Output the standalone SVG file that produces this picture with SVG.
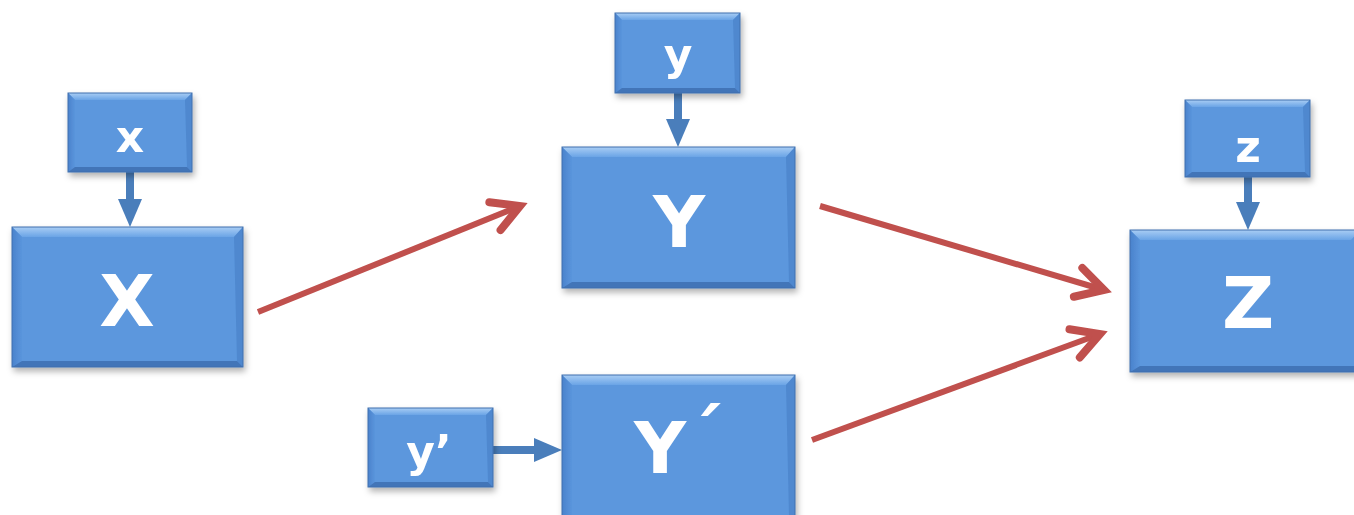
<svg xmlns="http://www.w3.org/2000/svg" width="1354" height="515" viewBox="0 0 1354 515">
  <defs>
    <filter id="shadow" x="-10%" y="-10%" width="125%" height="135%">
      <feDropShadow dx="2" dy="4" stdDeviation="3" flood-color="#000" flood-opacity="0.3"/>
    </filter>
    <linearGradient id="topBevel" x1="0" y1="0" x2="0" y2="1">
      <stop offset="0" stop-color="#a9cdf4"/>
      <stop offset="1" stop-color="#6aa4e6"/>
    </linearGradient>
    <linearGradient id="leftBevel" x1="0" y1="0" x2="1" y2="0">
      <stop offset="0" stop-color="#4a82cc"/>
      <stop offset="1" stop-color="#5a95dc"/>
    </linearGradient>
    <marker id="blueHead" markerUnits="userSpaceOnUse" viewBox="0 -15 30 30" markerWidth="30" markerHeight="30" refX="0" refY="0" orient="auto">
      <path d="M0,-12 L28,0 L0,12 Z" fill="#4a7ebb"/>
    </marker>
    <marker id="redHead" markerUnits="userSpaceOnUse" viewBox="-40 -25 50 50" markerWidth="50" markerHeight="50" refX="0" refY="0" orient="auto">
      <path d="M-27,-15 L0,0 L-27,15" fill="none" stroke="#c0504d" stroke-width="8" stroke-linecap="round" stroke-linejoin="miter"/>
    </marker>
  </defs>
  <style>
    .face { fill: #5b97dd; }
    .top { fill: url(#topBevel); }
    .left { fill: url(#leftBevel); }
    .right { fill: #4f88cf; }
    .bottom { fill: #4374b8; }
    .edge { fill: none; stroke: #3f6fae; stroke-width: 1; }
    .lbl { font-family: "DejaVu Sans", Verdana, sans-serif; font-weight: bold; fill: #ffffff; text-anchor: middle; }
    .big { font-size: 72px; }
    .small { font-size: 44px; }
    .blue { stroke: #4a7ebb; stroke-width: 8; fill: none; marker-end: url(#blueHead); }
    .red { stroke: #c0504d; stroke-width: 6; fill: none; marker-end: url(#redHead); }
  </style>

  <rect width="1354" height="515" fill="#ffffff"/>

  <!-- connectors -->
  <g id="connectors">
    <line class="blue" x1="130" y1="172" x2="130" y2="199"/>
    <line class="blue" x1="678" y1="93" x2="678" y2="119"/>
    <line class="blue" x1="1248" y1="177" x2="1248" y2="202"/>
    <line class="blue" x1="493" y1="450" x2="534" y2="450"/>
    <line class="red" x1="258" y1="312" x2="520" y2="206"/>
    <line class="red" x1="820" y1="206" x2="1104" y2="290"/>
    <line class="red" x1="812" y1="440" x2="1100" y2="334"/>
  </g>

  <!-- x -->
  <g id="node-x" filter="url(#shadow)">
    <rect class="face" x="68" y="93" width="124" height="79"/>
    <polygon class="top" points="68,93 192,93 185,100 75,100"/>
    <polygon class="left" points="68,93 75,100 75,167 68,172"/>
    <polygon class="right" points="192,93 192,172 187,167 185,100"/>
    <polygon class="bottom" points="68,172 75,167 187,167 192,172"/>
    <rect class="edge" x="68" y="93" width="124" height="79"/>
    <text class="lbl small" x="130" y="152">x</text>
  </g>

  <!-- X -->
  <g id="node-X" filter="url(#shadow)">
    <rect class="face" x="12" y="227" width="231" height="140"/>
    <polygon class="top" points="12,227 243,227 234,237 22,237"/>
    <polygon class="left" points="12,227 22,237 22,361 12,367"/>
    <polygon class="right" points="243,227 243,367 237,361 234,237"/>
    <polygon class="bottom" points="12,367 22,361 237,361 243,367"/>
    <rect class="edge" x="12" y="227" width="231" height="140"/>
    <text class="lbl big" x="127" y="326">X</text>
  </g>

  <!-- y -->
  <g id="node-y" filter="url(#shadow)">
    <rect class="face" x="615" y="13" width="125" height="80"/>
    <polygon class="top" points="615,13 740,13 733,20 622,20"/>
    <polygon class="left" points="615,13 622,20 622,88 615,93"/>
    <polygon class="right" points="740,13 740,93 735,88 733,20"/>
    <polygon class="bottom" points="615,93 622,88 735,88 740,93"/>
    <rect class="edge" x="615" y="13" width="125" height="80"/>
    <text class="lbl small" x="678" y="70">y</text>
  </g>

  <!-- Y -->
  <g id="node-Y" filter="url(#shadow)">
    <rect class="face" x="562" y="147" width="233" height="141"/>
    <polygon class="top" points="562,147 795,147 786,157 572,157"/>
    <polygon class="left" points="562,147 572,157 572,282 562,288"/>
    <polygon class="right" points="795,147 795,288 789,282 786,157"/>
    <polygon class="bottom" points="562,288 572,282 789,282 795,288"/>
    <rect class="edge" x="562" y="147" width="233" height="141"/>
    <text class="lbl big" x="679" y="247">Y</text>
  </g>

  <!-- y' -->
  <g id="node-yprime" filter="url(#shadow)">
    <rect class="face" x="368" y="408" width="125" height="79"/>
    <polygon class="top" points="368,408 493,408 486,415 375,415"/>
    <polygon class="left" points="368,408 375,415 375,482 368,487"/>
    <polygon class="right" points="493,408 493,487 488,482 486,415"/>
    <polygon class="bottom" points="368,487 375,482 488,482 493,487"/>
    <rect class="edge" x="368" y="408" width="125" height="79"/>
    <text class="lbl small" x="429" y="467">y’</text>
  </g>

  <!-- Y´ -->
  <g id="node-Yprime" filter="url(#shadow)">
    <rect class="face" x="562" y="375" width="233" height="141"/>
    <polygon class="top" points="562,375 795,375 786,385 572,385"/>
    <polygon class="left" points="562,375 572,385 572,516 562,516"/>
    <polygon class="right" points="795,375 795,516 789,516 786,385"/>
    <rect class="edge" x="562" y="375" width="233" height="141"/>
    <text class="lbl big" x="660" y="473">Y<tspan x="706" y="460">´</tspan></text>
  </g>

  <!-- z -->
  <g id="node-z" filter="url(#shadow)">
    <rect class="face" x="1185" y="100" width="125" height="77"/>
    <polygon class="top" points="1185,100 1310,100 1303,107 1192,107"/>
    <polygon class="left" points="1185,100 1192,107 1192,172 1185,177"/>
    <polygon class="right" points="1310,100 1310,177 1305,172 1303,107"/>
    <polygon class="bottom" points="1185,177 1192,172 1305,172 1310,177"/>
    <rect class="edge" x="1185" y="100" width="125" height="77"/>
    <text class="lbl small" x="1248" y="162">z</text>
  </g>

  <!-- Z -->
  <g id="node-Z" filter="url(#shadow)">
    <rect class="face" x="1130" y="230" width="230" height="142"/>
    <polygon class="top" points="1130,230 1360,230 1351,240 1140,240"/>
    <polygon class="left" points="1130,230 1140,240 1140,366 1130,372"/>
    <polygon class="bottom" points="1130,372 1140,366 1360,366 1360,372"/>
    <rect class="edge" x="1130" y="230" width="230" height="142"/>
    <text class="lbl big" x="1248" y="328">Z</text>
  </g>
</svg>
